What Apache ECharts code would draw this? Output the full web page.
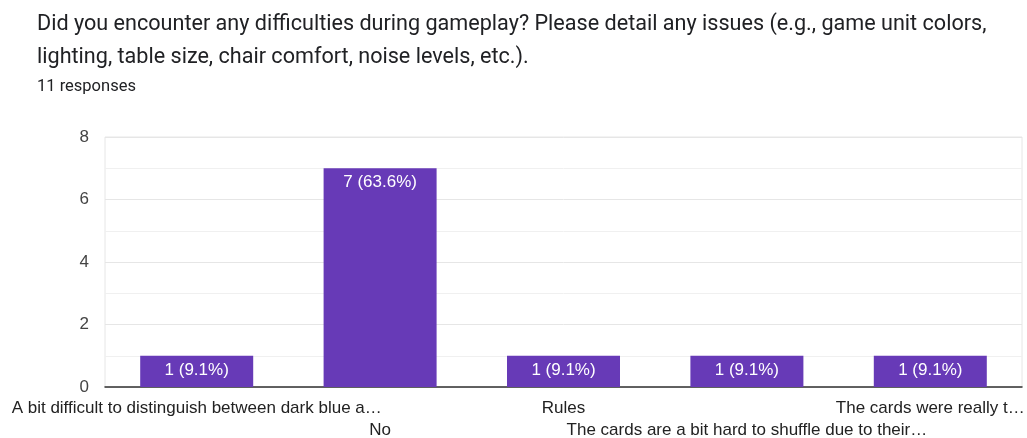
<!DOCTYPE html>
<html><head><meta charset="utf-8">
<script src="https://cdn.jsdelivr.net/npm/echarts@6/dist/echarts.min.js"></script>
<style>html,body{margin:0;padding:0;background:#fff}#c{width:1027px;height:438px}</style>
</head><body><div id="c"></div>
<script>
const titleText = "Did you encounter any difficulties during gameplay? Please detail any issues (e.g., game unit colors,\nlighting, table size, chair comfort, noise levels, etc.).";
const subtitleText = "11 responses";
const categories = [
  "A bit difficult to distinguish between dark blue a\u2026",
  "No",
  "Rules",
  "The cards are a bit hard to shuffle due to their\u2026",
  "The cards were really t\u2026"
];
const counts = [1, 7, 1, 1, 1];
const totalResponses = 11;

const chart = echarts.init(document.getElementById('c'));
chart.setOption({
  animation: false,
  title: [
    {text: titleText, left: 32, top: 3,
     textStyle: {fontFamily: 'Roboto', fontSize: 21.6, fontWeight: 'normal', color: '#202124', lineHeight: 33}},
    {text: subtitleText, left: 32, top: 73,
     textStyle: {fontFamily: 'Roboto', fontSize: 16.5, fontWeight: 'normal', color: '#202124'}}
  ],
  grid: {left: 105, right: 5, top: 137, bottom: 51, outerBoundsMode: 'none', containLabel: false,
    show: true, borderColor: '#e6e6e6', borderWidth: 1, backgroundColor: 'transparent'},
  xAxis: {
    type: 'category', data: categories,
    axisTick: {show: false},
    axisLine: {lineStyle: {color: '#333', width: 1.5}},
    axisLabel: {interval: 0, fontFamily: 'Liberation Sans', fontSize: 17, color: '#222', lineHeight: 22, margin: 10,
      formatter: (v, i) => (i % 2 === 1 ? '\n' + v : v)}
  },
  yAxis: {
    type: 'value', min: 0, max: 8, interval: 2,
    axisLabel: {fontFamily: 'Liberation Sans', fontSize: 17, color: '#444', margin: 16},
    splitLine: {lineStyle: {color: '#e6e6e6'}},
    minorTick: {show: false, splitNumber: 2},
    minorSplitLine: {show: true, lineStyle: {color: '#f0f0f0'}}
  },
  series: [{
    type: 'bar', data: counts, barWidth: 113,
    itemStyle: {color: '#673ab7'},
    label: {show: true, position: 'insideTop', distance: 6, color: '#fff', fontFamily: 'Liberation Sans', fontSize: 17,
      formatter: p => p.value + ' (' + (p.value / totalResponses * 100).toFixed(1) + '%)'}
  }]
});
</script></body></html>
